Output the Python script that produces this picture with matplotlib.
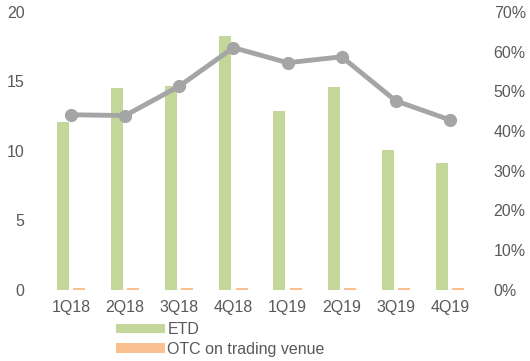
import numpy as np
import matplotlib
matplotlib.use('Agg')
import matplotlib.pyplot as plt
from matplotlib.ticker import PercentFormatter

quarters = ['1Q18', '2Q18', '3Q18', '4Q18', '1Q19', '2Q19', '3Q19', '4Q19']
etd = [12.1, 14.5, 14.7, 18.3, 12.9, 14.6, 10.1, 9.1]
otc_venue = [0.15, 0.15, 0.15, 0.15, 0.15, 0.15, 0.15, 0.15]
share = [44.1, 43.9, 51.3, 61.0, 57.2, 58.7, 47.6, 42.8]

text_col = '#595959'
plt.rcParams['font.family'] = ['Liberation Sans', 'DejaVu Sans']
plt.rcParams['font.size'] = 11.5

fig = plt.figure(figsize=(5.30, 3.61), dpi=100)
ax = fig.add_axes([0.083, 0.197, 0.817, 0.770])
x = np.arange(len(quarters))
w = 0.22
ax.bar(x - 0.15, etd, w, color='#C4D79B', label='ETD')
ax.bar(x + 0.15, otc_venue, w, color='#FAC090', label='OTC on trading venue')
ax.set_xlim(-0.5, len(quarters) - 0.5)
ax.set_ylim(0, 20)
ax.set_yticks([0, 5, 10, 15, 20])
ax.set_xticks(x)
ax.set_xticklabels(quarters)

# share line on the right-hand percentage axis
ax2 = ax.twinx()
ax2.plot(x, share, color='#A5A5A5', lw=3.5, marker='o', ms=8.5, solid_joinstyle='round')
ax2.set_ylim(0, 70)
ax2.set_yticks(np.arange(0, 71, 10))
ax2.yaxis.set_major_formatter(PercentFormatter(decimals=0))

for a in (ax, ax2):
    for s in a.spines.values():
        s.set_visible(False)
    a.tick_params(length=0, colors=text_col, labelsize=11.5)
ax.tick_params(axis='x', pad=7)
ax.tick_params(axis='y', pad=14)
ax2.tick_params(axis='y', pad=12)

h, l = ax.get_legend_handles_labels()
fig.legend(h, l, loc='upper left', bbox_to_anchor=(0.203, 0.13), frameon=False,
           handlelength=3.1, handleheight=0.55, handletextpad=0.15,
           labelspacing=0.3, borderpad=0, labelcolor=text_col, fontsize=11.5)

fig.savefig('out.png', dpi=100)
